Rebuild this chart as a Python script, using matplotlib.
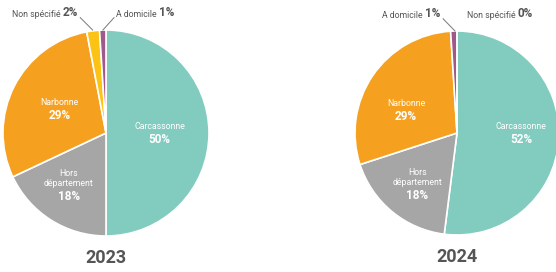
import matplotlib
matplotlib.use("Agg")
import matplotlib.pyplot as plt

plt.rcParams['font.family'] = ['Roboto', 'DejaVu Sans']

categories_2023 = ["Carcassonne", "Hors\ndépartement", "Narbonne", "Non spécifié", "A domicile"]
values_2023 = [50, 18, 29, 2, 1]
categories_2024 = ["Carcassonne", "Hors\ndépartement", "Narbonne", "A domicile", "Non spécifié"]
values_2024 = [52, 18, 29, 1, 0]
years = ["2023", "2024"]

color_map = {
    "Carcassonne": "#82CBBF",
    "Hors\ndépartement": "#A6A6A6",
    "Narbonne": "#F6A020",
    "Non spécifié": "#FDC314",
    "A domicile": "#A05A8A",
}

fig = plt.figure(figsize=(5.56, 2.72), dpi=100)
W, H = 556, 272

def make_ax(cx, cy, r):
    return fig.add_axes([(cx - r) / W, (H - cy - r) / H, 2 * r / W, 2 * r / H])

ax1 = make_ax(106, 133, 103)
ax2 = make_ax(457, 133, 102)

def draw_pie(ax, cats, vals):
    cols = [color_map[c] for c in cats]
    ax.pie(vals, colors=cols, startangle=90, counterclock=False,
           wedgeprops=dict(edgecolor="white", linewidth=1.2))
    ax.set_xlim(-1, 1)
    ax.set_ylim(-1, 1)
    ax.set_aspect("equal")
    ax.axis("off")

draw_pie(ax1, categories_2023, values_2023)
draw_pie(ax2, categories_2024, values_2024)

def inner(ax, x, y, name, pct):
    ax.text(x, y + 0.02, name, ha="center", va="bottom", color="white",
            fontsize=6.3, linespacing=1.15)
    ax.text(x, y, f"{pct}%", ha="center", va="top", color="white",
            fontsize=8.5, fontweight="bold")

inner(ax1, 0.52, 0.0, "Carcassonne", values_2023[0])
inner(ax1, -0.45, 0.23, "Narbonne", values_2023[2])
inner(ax1, -0.36, -0.55, "Hors\ndépartement", values_2023[1])
inner(ax2, 0.63, 0.0, "Carcassonne", values_2024[0])
inner(ax2, -0.5, 0.23, "Narbonne", values_2024[2])
inner(ax2, -0.39, -0.55, "Hors\ndépartement", values_2024[1])

lab_col = "#555555"

def outer_left(ax, x, y, name, pct):
    t1 = ax.text(x, y, name + " ", ha="left", va="bottom", color=lab_col,
                 fontsize=6.3, clip_on=False)
    ax.annotate(f"{pct}%", xy=(1, 0), xycoords=t1, ha="left", va="bottom",
                color=lab_col, fontsize=8.5, fontweight="bold")

def outer_right(ax, x, y, name, pct):
    t2 = ax.text(x, y, f"{pct}%", ha="right", va="bottom", color=lab_col,
                 fontsize=8.5, fontweight="bold", clip_on=False)
    ax.annotate(name + " ", xy=(0, 0), xycoords=t2, ha="right", va="bottom",
                color=lab_col, fontsize=6.3)

def leader(ax, p0, p1):
    ax.plot([p0[0], p1[0]], [p0[1], p1[1]], color="#777777", lw=0.7, clip_on=False)

outer_right(ax1, -0.27, 1.11, "Non spécifié", values_2023[3])
leader(ax1, (-0.25, 1.12), (-0.13, 1.0))
outer_left(ax1, 0.095, 1.11, "A domicile", values_2023[4])
leader(ax1, (0.078, 1.12), (-0.03, 1.0))

outer_right(ax2, -0.165, 1.11, "A domicile", values_2024[3])
leader(ax2, (-0.136, 1.12), (-0.02, 1.0))
outer_left(ax2, 0.097, 1.11, "Non spécifié", values_2024[4])

for ax, yr, yy in [(ax1, years[0], -1.21), (ax2, years[1], -1.22)]:
    ax.text(0, yy, yr, ha="center", va="center", color="#555555",
            fontsize=13, fontweight="bold", clip_on=False)

fig.savefig("out.png", dpi=100)
